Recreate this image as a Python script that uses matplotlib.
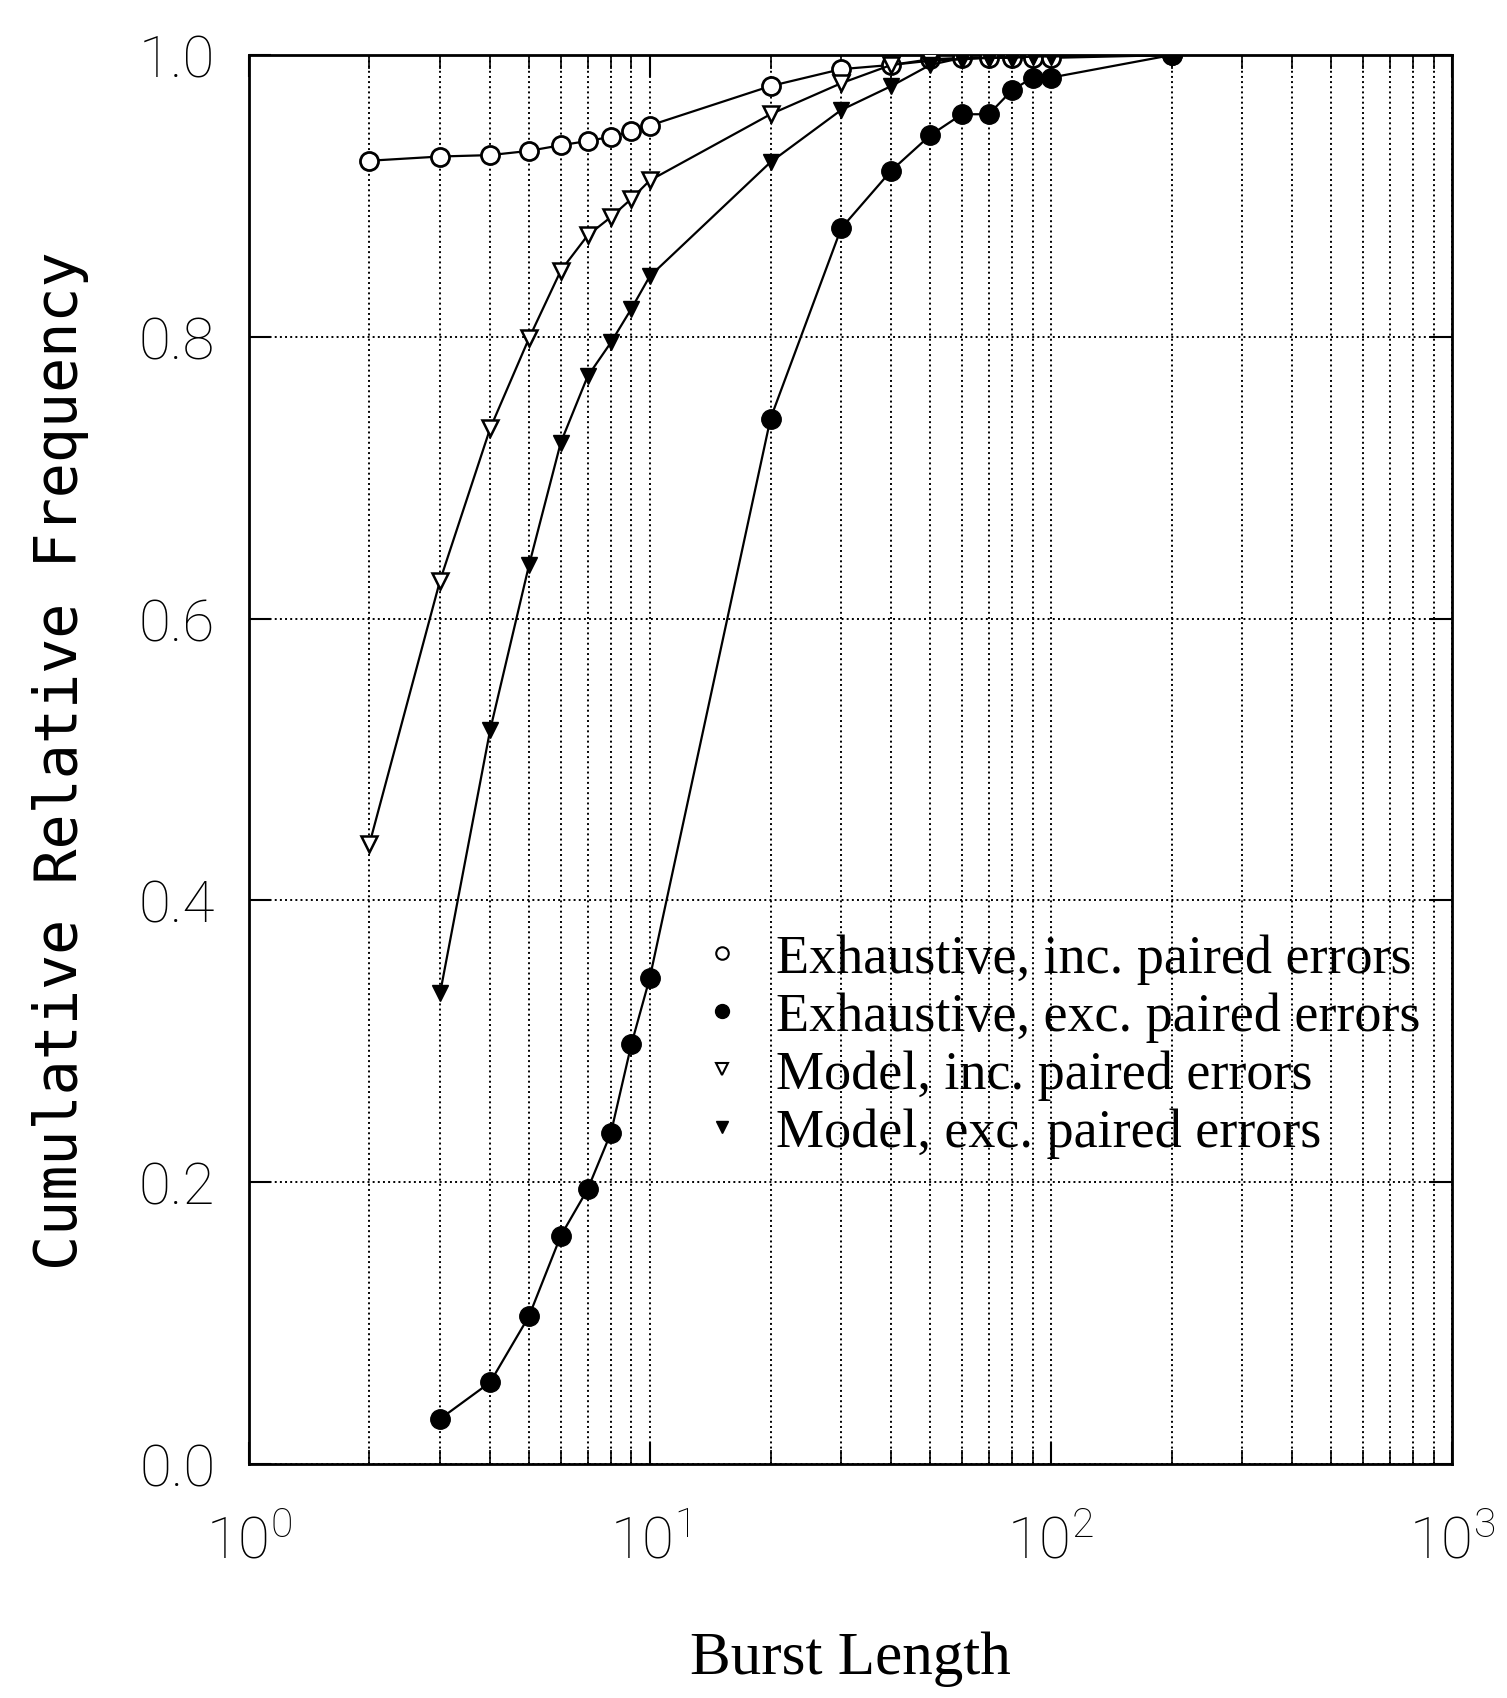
import matplotlib
matplotlib.use("Agg")
import matplotlib.pyplot as plt
from matplotlib.ticker import LogLocator, FixedLocator, NullFormatter
from matplotlib.lines import Line2D

# ---- data ----
x_exh_inc = [2, 3, 4, 5, 6, 7, 8, 9, 10, 20, 30, 40, 50, 60, 70, 80, 90, 100, 200]
y_exh_inc = [0.925, 0.928, 0.929, 0.932, 0.936, 0.939, 0.942, 0.946, 0.950,
             0.978, 0.990, 0.993, 0.997, 0.998, 0.998, 0.998, 0.998, 0.998, 1.0]

x_exh_exc = [3, 4, 5, 6, 7, 8, 9, 10, 20, 30, 40, 50, 60, 70, 80, 90, 100, 200]
y_exh_exc = [0.032, 0.058, 0.105, 0.162, 0.195, 0.235, 0.298, 0.345,
             0.742, 0.877, 0.918, 0.943, 0.958, 0.958, 0.975, 0.984, 0.984, 1.0]

x_mod_inc = [2, 3, 4, 5, 6, 7, 8, 9, 10, 20, 30, 40, 50, 60, 70, 80, 90, 100, 200]
y_mod_inc = [0.440, 0.627, 0.735, 0.799, 0.847, 0.872, 0.885, 0.898, 0.911,
             0.958, 0.980, 0.993, 0.996, 0.997, 0.998, 0.998, 0.999, 0.999, 1.0]

x_mod_exc = [3, 4, 5, 6, 7, 8, 9, 10, 20, 30, 40, 50, 60, 70, 80, 90, 100, 200]
y_mod_exc = [0.334, 0.521, 0.638, 0.725, 0.772, 0.796, 0.820, 0.843,
             0.924, 0.961, 0.978, 0.993, 0.998, 0.998, 0.999, 0.999, 1.0, 1.0]

labels = ["Exhaustive, inc. paired errors",
          "Exhaustive, exc. paired errors",
          "Model, inc. paired errors",
          "Model, exc. paired errors"]

yticks = [0.0, 0.2, 0.4, 0.6, 0.8, 1.0]
ytick_labels = ["0.0", "0.2", "0.4", "0.6", "0.8", "1.0"]
xticks = [1, 10, 100, 1000]
xtick_labels = [r"$\mathregular{10^{0}}$", r"$\mathregular{10^{1}}$",
                r"$\mathregular{10^{2}}$", r"$\mathregular{10^{3}}$"]

TICKFONT = ["Roboto", "DejaVu Sans"]
plt.rcParams["mathtext.fontset"] = "custom"
plt.rcParams["mathtext.rm"] = "Roboto:light"

fig = plt.figure(figsize=(15.07, 16.99), dpi=100)
ax = fig.add_axes([0.165, 0.1377, 0.7985, 0.8293])

lw = 1.6
ax.plot(x_exh_inc, y_exh_inc, color="black", lw=lw, marker="o", ms=13,
        mfc="white", mec="black", mew=2.0, zorder=3)
ax.plot(x_mod_inc, y_mod_inc, color="black", lw=lw, marker="v", ms=12,
        mfc="white", mec="black", mew=1.8, zorder=3)
ax.plot(x_mod_exc, y_mod_exc, color="black", lw=lw, marker="v", ms=12,
        mfc="black", mec="black", zorder=4)
ax.plot(x_exh_exc, y_exh_exc, color="black", lw=lw, marker="o", ms=14,
        mfc="black", mec="black", zorder=5)

ax.set_xscale("log")
ax.set_xlim(1, 1000)
ax.set_ylim(0, 1.0)

ax.xaxis.set_major_locator(FixedLocator(xticks))
ax.set_xticklabels(xtick_labels)
ax.xaxis.set_minor_locator(LogLocator(base=10, subs=range(2, 10), numticks=20))
ax.xaxis.set_minor_formatter(NullFormatter())
ax.set_yticks(yticks)
ax.set_yticklabels(ytick_labels)

for lab in ax.get_xticklabels():
    lab.set_fontfamily(TICKFONT)
    lab.set_fontweight("light")
    lab.set_fontsize(42)
for lab in ax.get_yticklabels():
    lab.set_fontfamily(TICKFONT)
    lab.set_fontweight("light")
    lab.set_fontsize(42)

ax.tick_params(axis="both", which="major", direction="in", length=16, width=1.5,
               top=True, right=True, colors="black")
ax.tick_params(axis="x", which="major", pad=36)
ax.tick_params(axis="y", which="major", pad=24)
ax.tick_params(axis="x", which="minor", direction="in", length=10, width=1.2,
               top=True)

ax.grid(True, which="major", axis="both", linestyle=":", color="black", lw=1.4)
ax.grid(True, which="minor", axis="x", linestyle=":", color="black", lw=1.4)

for s in ax.spines.values():
    s.set_linewidth(2.0)
    s.set_color("black")

ax.set_ylabel("Cumulative Relative Frequency", family=["DejaVu Sans Mono"],
              fontsize=42, labelpad=36)
ax.set_xlabel("Burst Length", family=["Liberation Serif", "DejaVu Serif"],
              fontsize=44, labelpad=44)

handles = [
    Line2D([], [], ls="none", marker="o", ms=9, mfc="white", mec="black", mew=1.5),
    Line2D([], [], ls="none", marker="o", ms=10, mfc="black", mec="black"),
    Line2D([], [], ls="none", marker="v", ms=8, mfc="white", mec="black", mew=1.5),
    Line2D([], [], ls="none", marker="v", ms=9, mfc="black", mec="black"),
]
leg = ax.legend(handles, labels, loc="upper left", bbox_to_anchor=(0.357, 0.392),
                frameon=False, handlelength=0.8, handletextpad=0.6,
                labelspacing=0.14, borderaxespad=0,
                prop={"family": ["Liberation Serif", "DejaVu Serif"], "size": 39})

fig.savefig("out.png", dpi=100, facecolor="white")
